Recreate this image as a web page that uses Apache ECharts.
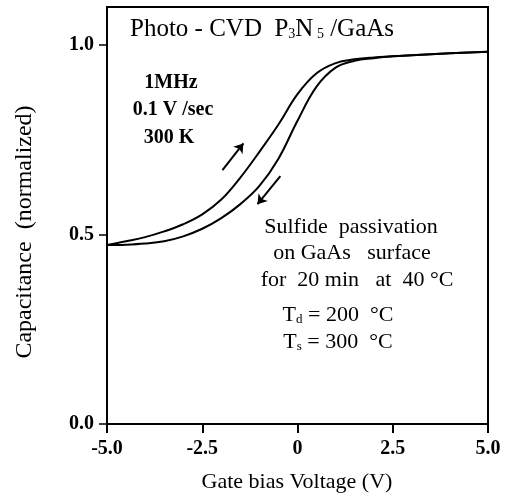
<!DOCTYPE html>
<html><head><meta charset="utf-8">
<script src="https://cdn.jsdelivr.net/npm/echarts@6/dist/echarts.min.js"></script>
<style>html,body{margin:0;padding:0;background:#fff}#c{width:514px;height:503px}</style>
</head><body><div id="c"></div>
<script>
// Forward sweep (arrow up), gate bias V
const upV = [-5.0, -4.5, -4.0, -3.5, -3.0, -2.5, -2.0, -1.5, -1.0, -0.5, 0.0, 0.5, 1.0, 1.5, 2.0, 2.5, 3.0, 4.0, 5.0];
const upC = [0.472, 0.482, 0.493, 0.508, 0.527, 0.553, 0.592, 0.650, 0.718, 0.790, 0.870, 0.925, 0.952, 0.962, 0.967, 0.970, 0.973, 0.978, 0.982];
// Reverse sweep (arrow down)
const downV = [-5.0, -4.5, -4.0, -3.5, -3.0, -2.5, -2.0, -1.5, -1.0, -0.5, 0.0, 0.5, 1.0, 1.5, 2.0, 2.5, 3.0, 4.0, 5.0];
const downC = [0.472, 0.473, 0.476, 0.482, 0.495, 0.515, 0.543, 0.580, 0.628, 0.700, 0.800, 0.890, 0.940, 0.958, 0.965, 0.970, 0.973, 0.978, 0.982];
const xTicks = [-5.0, -2.5, 0, 2.5, 5.0];
const yTicks = [0.0, 0.5, 1.0];
const arrowUp = [[-1.97, 0.670], [-1.42, 0.740]];
const arrowDown = [[-0.45, 0.654], [-1.05, 0.580]];

const serif = '"Liberation Serif", "DejaVu Serif", serif';
const chart = echarts.init(document.getElementById('c'));
const pair = (xs, ys) => xs.map((x, i) => [x, ys[i]]);
const txt = (text, x, y, size, weight) => ({
  type: 'text', x: x, y: y,
  style: { text: text, font: (weight || 'normal') + ' ' + size + 'px ' + serif, fill: '#000', align: 'center', verticalAlign: 'middle' }
});
const richTxt = (text, x, y, size, sub) => ({
  type: 'text', x: x, y: y,
  style: { text: text, align: 'center', verticalAlign: 'middle',
    rich: { n: { font: size + 'px ' + serif, fill: '#000' },
            s: { font: sub + 'px ' + serif, fill: '#000', padding: [Math.round(size * 0.45), 0, 0, 0] } } }
});

chart.setOption({
  animation: false,
  backgroundColor: '#fff',
  grid: { left: 107, right: 26, top: 7, bottom: 79, show: true, borderColor: '#000', borderWidth: 2, backgroundColor: 'transparent' },
  xAxis: {
    type: 'value', min: -5, max: 5, interval: 2.5,
    axisLine: { lineStyle: { color: '#000', width: 2 } },
    axisTick: { length: 9, customValues: xTicks, lineStyle: { color: '#000', width: 2 } },
    axisLabel: { fontFamily: serif, fontSize: 20, fontWeight: 'bold', color: '#000', margin: 15, customValues: xTicks,
      formatter: v => (Math.abs(v) < 1e-6 ? '0' : Number(v).toFixed(1)) },
    splitLine: { show: false }
  },
  yAxis: {
    type: 'value', min: 0, max: 1.1, interval: 0.5,
    axisLine: { onZero: false, lineStyle: { color: '#000', width: 2 } },
    axisTick: { length: 8, customValues: yTicks, lineStyle: { color: '#000', width: 1.5 } },
    axisLabel: { fontFamily: serif, fontSize: 20, fontWeight: 'bold', color: '#000', margin: 13, customValues: yTicks,
      formatter: v => Number(v).toFixed(1) },
    splitLine: { show: false }
  },
  series: [
    { type: 'line', data: pair(upV, upC), smooth: 0.4, showSymbol: false,
      lineStyle: { color: '#000', width: 2 },
      markLine: { silent: true, symbol: ['none', 'arrow'], symbolSize: 9, label: { show: false },
        lineStyle: { color: '#000', width: 2, type: 'solid' },
        data: [[{ coord: arrowUp[0] }, { coord: arrowUp[1] }], [{ coord: arrowDown[0] }, { coord: arrowDown[1] }]] } },
    { type: 'line', data: pair(downV, downC), smooth: 0.4, showSymbol: false,
      lineStyle: { color: '#000', width: 2 } }
  ],
  graphic: [
    richTxt('{n|Photo - CVD  P}{s|3}{n|N}{s| 5}{n| /GaAs}', 262, 29, 25, 14),
    txt('1MHz', 171, 83, 20, 'bold'),
    txt('0.1 V /sec', 173, 110, 20, 'bold'),
    txt('300 K', 169, 138, 20, 'bold'),
    txt('Sulfide  passivation', 351, 227, 22),
    txt('on GaAs   surface', 352, 253, 22),
    txt('for  20 min   at  40 °C', 357, 280, 22),
    richTxt('{n|T}{s|d}{n| = 200  °C}', 338, 315, 22, 13),
    richTxt('{n|T}{s|s}{n| = 300  °C}', 338, 342, 22, 13),
    txt('Gate bias Voltage (V)', 297, 482, 22),
    { type: 'text', x: 25, y: 232, rotation: Math.PI / 2,
      style: { text: 'Capacitance  (normalized)', font: '24px ' + serif, fill: '#000', align: 'center', verticalAlign: 'middle' } }
  ]
});
</script></body></html>
